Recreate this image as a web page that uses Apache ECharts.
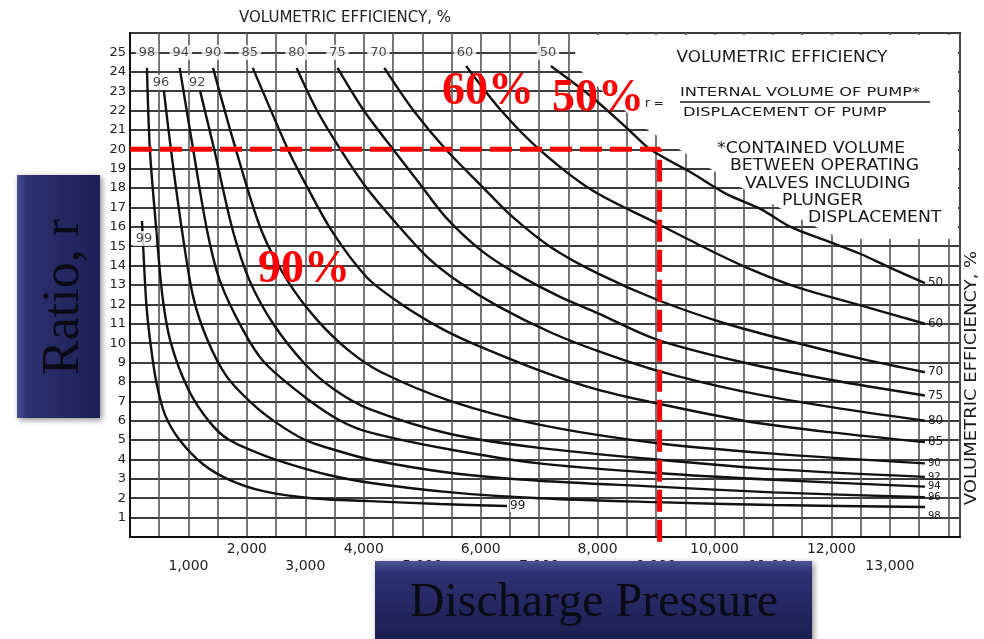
<!DOCTYPE html>
<html>
<head>
<meta charset="utf-8">
<script src="https://cdn.jsdelivr.net/npm/echarts@6/dist/echarts.min.js"></script>
<style>
html, body { margin: 0; padding: 0; background: #fff; }
#chart { width: 984px; height: 639px; }
</style>
</head>
<body>
<div id="chart"></div>
<script>
// curves of constant volumetric efficiency: [discharge pressure, ratio r]
let ve_labels = ['99', '98', '96', '94', '92', '90', '85', '80', '75', '70', '60', '50'];

let ve99 = [[205, 16.3], [225, 15.0], [280, 12.0], [350, 10.0], [450, 8.0], [600, 6.3], [850, 5.0], [1250, 3.75],
    [1700, 2.95], [2300, 2.35], [3100, 2.0], [4100, 1.85], [5300, 1.7], [6450, 1.6]];
let ve98 = [[290, 24.2], [340, 20.0], [460, 15.5], [560, 12.3], [700, 10.0], [1000, 7.6], [1370, 5.9], [1700, 5.0],
    [2300, 4.2], [2800, 3.7], [3400, 3.2], [4100, 2.8], [5500, 2.3], [7000, 2.0], [9000, 1.8], [11000, 1.65], [13600, 1.55]];
let ve96 = [[580, 23.0], [700, 20.0], [890, 15.8], [1080, 12.4], [1320, 10.2], [1650, 8.3], [2100, 6.85], [2500, 5.9],
    [3000, 5.0], [3550, 4.45], [4100, 4.0], [5500, 3.3], [7000, 2.9], [9000, 2.6], [11000, 2.3], [13600, 2.05]];
let ve94 = [[850, 24.2], [1080, 20.0], [1320, 15.8], [1540, 13.2], [1930, 10.7], [2300, 9.0], [3000, 7.2], [3600, 6.0],
    [4100, 5.4], [5500, 4.5], [7000, 3.8], [9000, 3.3], [11000, 2.95], [13600, 2.6]];
let ve92 = [[1200, 23.0], [1440, 20.0], [1760, 15.8], [2050, 13.2], [2450, 11.0], [3000, 8.9], [3500, 7.6], [4100, 6.6],
    [5500, 5.3], [7000, 4.6], [9000, 4.0], [11000, 3.5], [13600, 3.1]];
let ve90 = [[1420, 24.2], [1810, 20.0], [2250, 15.8], [2700, 13.2], [3200, 11.2], [3750, 9.6], [4300, 8.5], [5500, 7.0],
    [7000, 5.8], [9000, 4.85], [11000, 4.3], [13600, 3.8]];
let ve85 = [[2100, 24.2], [2700, 20.0], [2900, 18.8], [3450, 15.8], [4050, 13.4], [4600, 12.1], [5300, 10.8], [5850, 10.0],
    [7000, 8.6], [8000, 7.6], [9000, 6.9], [10500, 6.0], [12000, 5.4], [13600, 4.9]];
let ve80 = [[2850, 24.2], [3200, 22.0], [3600, 20.0], [4050, 18.0], [4550, 16.2], [5100, 14.4], [5650, 13.1], [6300, 11.9],
    [7200, 10.55], [8000, 9.6], [9000, 8.6], [10500, 7.5], [12000, 6.7], [13600, 6.0]];
let ve75 = [[3550, 24.2], [4000, 22.0], [4500, 20.0], [4950, 18.25], [5400, 16.5], [6000, 14.8], [6600, 13.6], [7350, 12.4],
    [8000, 11.55], [9000, 10.2], [10500, 9.0], [12000, 8.1], [13600, 7.3]];
let ve70 = [[4350, 24.2], [4850, 22.0], [5400, 20.0], [6050, 18.0], [6550, 16.5], [7200, 14.95], [8000, 13.6], [9050, 12.2],
    [10200, 11.0], [11300, 10.1], [12500, 9.2], [13600, 8.5]];
let ve60 = [[5750, 24.3], [6350, 22.0], [7000, 20.0], [7900, 17.9], [9000, 16.2], [9750, 15.05], [10550, 13.9], [11450, 12.85],
    [12500, 11.95], [13600, 11.0]];
let ve50 = [[7200, 24.3], [7900, 22.7], [8500, 21.1], [8900, 20.0], [9600, 18.8], [10200, 17.7], [10800, 16.9], [11300, 16.0],
    [11900, 15.3], [12500, 14.6], [13000, 13.9], [13600, 13.1]];

let ve_curves = [ve99, ve98, ve96, ve94, ve92, ve90, ve85, ve80, ve75, ve70, ve60, ve50];

// curve names written along the top row and inside the chart
let top_label_text = ['98', '94', '90', '85', '80', '75', '70', '60', '50', '96', '92', '99'];
let top_label_x = [290, 870, 1420, 2050, 2850, 3550, 4250, 5730, 7150, 530, 1150, 240];
let top_label_y = [25, 25, 25, 25, 25, 25, 25, 25, 25, 23.45, 23.45, 15.4];

// red reading lines: r = 20 and the pressure where it meets the 50 % curve
let marker_ratio = 20;
let marker_pressure = 9060;

const FONT = 'DejaVu Sans';
const SERIF = 'Liberation Serif';

let chart = echarts.init(document.getElementById('chart'));

function txt(x, y, s, size, extra) {
    return Object.assign({
        type: 'text', x: x, y: y, z: 6,
        style: { text: s, fontSize: size, fontFamily: FONT, fill: '#1a1a1a', align: 'left', verticalAlign: 'middle' }
    }, extra || {});
}

let curve_series = ve_curves.map((data, i) => {
    let small = i >= 1 && i <= 5;
    let offset = [0, 0];
    if (i === 1) offset = [0, 9];
    return {
        name: ve_labels[i],
        type: 'line',
        data: data,
        smooth: 0.3,
        symbol: 'none',
        silent: true,
        z: 3,
        lineStyle: { color: '#111', width: 2.4 },
        endLabel: {
            show: true,
            formatter: ve_labels[i],
            fontSize: small ? 10 : 12,
            fontFamily: FONT,
            color: '#1a1a1a',
            distance: 3,
            offset: offset,
            backgroundColor: i === 0 ? '#fff' : 'transparent'
        }
    };
});

let blue_h = new echarts.graphic.LinearGradient(0, 0, 1, 0, [
    { offset: 0, color: '#4a4f93' }, { offset: 0.12, color: '#2d3170' }, { offset: 1, color: '#1c1f55' }
]);
let blue_v = new echarts.graphic.LinearGradient(0, 0, 0, 1, [
    { offset: 0, color: '#4d5297' }, { offset: 0.15, color: '#2d3172' }, { offset: 1, color: '#1a1d50' }
]);

let option = {
    animation: false,
    backgroundColor: '#fff',
    title: {
        text: 'VOLUMETRIC EFFICIENCY, %',
        left: 340, top: 6, textAlign: 'center',
        textStyle: { fontSize: 15, fontWeight: 'normal', fontFamily: FONT, color: '#222' }
    },
    grid: { left: 130, right: 24, top: 33, bottom: 102, show: true, borderColor: '#222', borderWidth: 2 },
    xAxis: {
        type: 'value', min: 0, max: 14200, interval: 500,
        axisLine: { onZero: false, lineStyle: { color: '#111', width: 2 } },
        axisTick: { show: false },
        splitLine: { show: true, lineStyle: { color: '#555', width: 1.6 } },
        axisLabel: {
            margin: 5, showMaxLabel: false,
            formatter: function (v) {
                if (v === 0 || v % 1000 !== 0 || v > 13000) return '';
                let s = v.toLocaleString('en-US');
                return (v / 1000) % 2 === 0 ? '{a|' + s + '}' : '{b|' + s + '}';
            },
            rich: {
                a: { fontSize: 14, fontFamily: FONT, color: '#222' },
                b: { fontSize: 14, fontFamily: FONT, color: '#222', padding: [17, 0, 0, 0] }
            }
        }
    },
    yAxis: {
        type: 'value', min: 0, max: 26, interval: 1,
        axisLine: { onZero: false, lineStyle: { color: '#111', width: 2 } },
        axisTick: { show: false },
        splitLine: { show: true, lineStyle: { color: '#3c3c3c', width: 2 } },
        axisLabel: {
            margin: 4, fontSize: 13, fontFamily: FONT, color: '#222',
            formatter: v => (v >= 1 && v <= 25 ? String(v) : '')
        }
    },
    series: curve_series.concat([
        {
            type: 'scatter',
            data: top_label_x.map((x, i) => [x, top_label_y[i], top_label_text[i]]),
            symbolSize: 1,
            itemStyle: { color: 'rgba(0,0,0,0)' },
            silent: true,
            z: 4,
            label: {
                show: true, position: 'inside',
                formatter: p => p.value[2],
                backgroundColor: '#fff', padding: [1, 3],
                fontSize: 13, fontFamily: FONT, color: '#1a1a1a'
            }
        },
        {
            type: 'line',
            data: [[0, marker_ratio], [marker_pressure, marker_ratio], [marker_pressure, -0.55]],
            symbol: 'none',
            clip: false,
            silent: true,
            z: 5,
            lineStyle: { color: '#ff0000', width: 5, type: [22, 8] }
        }
    ]),
    graphic: [
        // blank panel holding the definition text
        {
            type: 'polygon', z: 1, silent: true,
            shape: { points: [[572, 35], [578, 68], [612, 100], [648, 130], [706, 166], [738, 186], [778, 207],
                [814, 226], [842, 239], [958, 239], [958, 35]] },
            style: { fill: '#fff' }
        },
        txt(782, 58, 'VOLUMETRIC EFFICIENCY', 15, { scaleX: 1.12, style: { text: 'VOLUMETRIC EFFICIENCY', fontSize: 15, fontFamily: FONT, fill: '#1a1a1a', align: 'center', verticalAlign: 'middle' } }),
        txt(645, 104, 'r =', 12),
        txt(680, 93, 'INTERNAL VOLUME OF PUMP*', 13, { scaleX: 1.25 }),
        { type: 'line', z: 6, shape: { x1: 680, y1: 102, x2: 930, y2: 102 }, style: { stroke: '#1a1a1a', lineWidth: 1.5 } },
        txt(683, 113, 'DISPLACEMENT OF PUMP', 13, { scaleX: 1.25 }),
        txt(717, 149, '*CONTAINED VOLUME', 15, { scaleX: 1.15 }),
        txt(730, 166, 'BETWEEN OPERATING', 15, { scaleX: 1.15 }),
        txt(745, 184, 'VALVES INCLUDING', 15, { scaleX: 1.15 }),
        txt(782, 201, 'PLUNGER', 15, { scaleX: 1.15 }),
        txt(808, 218, 'DISPLACEMENT', 15, { scaleX: 1.15 }),
        txt(972, 378, 'VOLUMETRIC EFFICIENCY, %', 15, {
            rotation: Math.PI / 2, scaleX: 1.2,
            style: { text: 'VOLUMETRIC EFFICIENCY, %', fontSize: 15, fontFamily: FONT, fill: '#1a1a1a', align: 'center', verticalAlign: 'middle' }
        }),
        // red handwritten-style readings
        txt(442, 92, '60%', 46, { z: 12, style: { text: '60%', fontSize: 46, fontWeight: 'bold', fontFamily: SERIF, fill: '#ff0000', align: 'left', verticalAlign: 'middle' } }),
        txt(552, 99, '50%', 46, { z: 12, style: { text: '50%', fontSize: 46, fontWeight: 'bold', fontFamily: SERIF, fill: '#ff0000', align: 'left', verticalAlign: 'middle' } }),
        txt(258, 270, '90%', 46, { z: 12, style: { text: '90%', fontSize: 46, fontWeight: 'bold', fontFamily: SERIF, fill: '#ff0000', align: 'left', verticalAlign: 'middle' } }),
        // axis title boxes
        {
            type: 'rect', z: 10, silent: true,
            shape: { x: 17, y: 175, width: 83, height: 243 },
            style: { fill: blue_h, shadowBlur: 6, shadowColor: 'rgba(0,0,0,0.45)', shadowOffsetX: 2, shadowOffsetY: 2 }
        },
        txt(64, 297, 'Ratio, r', 52, {
            z: 11, rotation: Math.PI / 2,
            style: { text: 'Ratio, r', fontSize: 52, fontFamily: SERIF, fill: '#0b0b14', align: 'center', verticalAlign: 'middle' }
        }),
        {
            type: 'rect', z: 10, silent: true,
            shape: { x: 375, y: 561, width: 437, height: 82 },
            style: { fill: blue_v, shadowBlur: 6, shadowColor: 'rgba(0,0,0,0.45)', shadowOffsetX: 2, shadowOffsetY: 2 }
        },
        txt(594, 603, 'Discharge Pressure', 48, {
            z: 11,
            style: { text: 'Discharge Pressure', fontSize: 48, fontFamily: SERIF, fill: '#0b0b14', align: 'center', verticalAlign: 'middle' }
        })
    ]
};

chart.setOption(option);

window.addEventListener('resize', function () {
    chart.resize();
});
</script>
</body>
</html>
